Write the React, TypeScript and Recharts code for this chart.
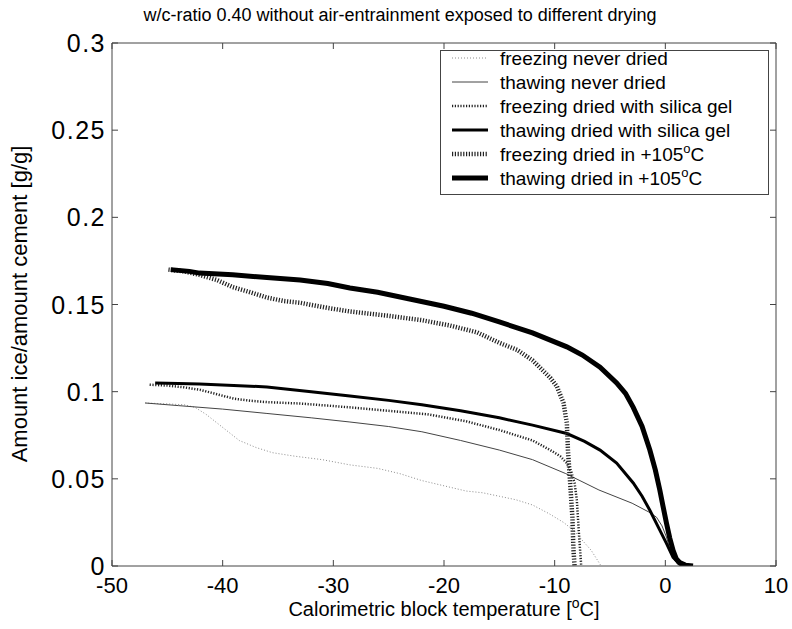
import React from 'react';
import { LineChart, Line, XAxis, YAxis } from 'recharts';

type Pt = [number, number];

const xTicks = [-50, -40, -30, -20, -10, 0, 10];
const yTicks = [0, 0.05, 0.1, 0.15, 0.2, 0.25, 0.3];

// [temperature °C, ice / cement g/g]
const freezingNeverDried: Pt[] = [
  [-47, 0.0935], [-45, 0.093], [-43.5, 0.0925], [-42.5, 0.091], [-41.5, 0.087],
  [-40.5, 0.082], [-39.5, 0.077], [-38.5, 0.072], [-37, 0.068], [-35.5, 0.065],
  [-33.5, 0.063], [-31, 0.061], [-28.5, 0.058], [-26, 0.056], [-24, 0.053],
  [-22, 0.049], [-20, 0.046], [-18, 0.043], [-16.5, 0.042], [-15, 0.04],
  [-13.5, 0.038], [-12, 0.035], [-10.5, 0.03], [-9.2, 0.025], [-8.2, 0.02],
  [-7.4, 0.014], [-6.7, 0.009], [-6.2, 0.004], [-5.9, 0.001], [-5.8, 0],
];

const thawingNeverDried: Pt[] = [
  [-47, 0.0935], [-44, 0.092], [-40, 0.09], [-36, 0.0875], [-32, 0.085],
  [-28.5, 0.0826], [-25, 0.08], [-22, 0.077], [-18.5, 0.072], [-15, 0.0665],
  [-12, 0.061], [-9, 0.053], [-6, 0.0436], [-3, 0.036], [-1.5, 0.031],
  [-0.8, 0.028], [-0.3, 0.023], [0.1, 0.0166], [0.4, 0.01], [0.7, 0.005],
  [1.1, 0.001], [1.5, 0], [2, 0],
];

const freezingSilica: Pt[] = [
  [-46.6, 0.104], [-45, 0.1035], [-43.5, 0.1025], [-42, 0.101], [-40.5, 0.0985],
  [-39, 0.096], [-37.5, 0.0948], [-36, 0.094], [-33, 0.0932], [-30.5, 0.092],
  [-28.5, 0.091], [-25, 0.089], [-21.5, 0.087], [-18, 0.083], [-15, 0.078],
  [-13.5, 0.075], [-12, 0.072], [-10.4, 0.0665], [-9.5, 0.063], [-8.9, 0.059],
  [-8.5, 0.054], [-8.2, 0.0476], [-8.0, 0.038], [-7.9, 0.028], [-7.8, 0.018],
  [-7.7, 0.009], [-7.6, 0],
];

const thawingSilica: Pt[] = [
  [-46.1, 0.105], [-44, 0.1047], [-42.1, 0.1044], [-39, 0.1036], [-36, 0.1027],
  [-32, 0.1], [-28.5, 0.0975], [-25, 0.095], [-22, 0.0925], [-18.5, 0.089],
  [-15, 0.085], [-12, 0.0808], [-8.9, 0.076], [-7.3, 0.0715], [-5.9, 0.0665],
  [-4.4, 0.059], [-2.9, 0.0476], [-2.1, 0.04], [-1.4, 0.032], [-0.5, 0.0206],
  [0.1, 0.013], [0.7, 0.005], [1.3, 0.001], [1.8, 0.0003], [2.3, 0],
];

const freezing105: Pt[] = [
  [-44.9, 0.17], [-43.5, 0.169], [-42.1, 0.167], [-40.5, 0.164], [-39.1, 0.16],
  [-37.5, 0.157], [-36, 0.154], [-34.5, 0.152], [-33, 0.151], [-30.5, 0.148],
  [-28.5, 0.146], [-25, 0.1435], [-22, 0.141], [-19.5, 0.138], [-17, 0.134],
  [-15, 0.128], [-13.4, 0.124], [-12, 0.118], [-10.4, 0.108], [-9.8, 0.103],
  [-9.2, 0.0935], [-8.9, 0.082], [-8.8, 0.0665], [-8.6, 0.0476], [-8.4, 0.028],
  [-8.3, 0.009], [-8.2, 0],
];

const thawing105: Pt[] = [
  [-44.7, 0.17], [-43, 0.169], [-42.1, 0.168], [-39.1, 0.167], [-36, 0.1655],
  [-33, 0.164], [-30.5, 0.162], [-28.5, 0.1595], [-26, 0.157], [-23, 0.153],
  [-20, 0.149], [-17.5, 0.145], [-15, 0.14], [-12, 0.1337], [-8.9, 0.1257],
  [-7.5, 0.121], [-5.9, 0.114], [-4.4, 0.105], [-3.6, 0.099], [-2.9, 0.091],
  [-2.1, 0.08], [-1.4, 0.0665], [-0.9, 0.055], [-0.5, 0.0436], [-0.2, 0.034],
  [0.1, 0.0247], [0.4, 0.016], [0.7, 0.009], [1.0, 0.004], [1.3, 0.002],
  [1.8, 0.0005], [2.5, 0],
];

const FONT = '"Liberation Sans", Arial, sans-serif';
const AXIS = '#444';

const SERIES = [
  { label: 'freezing never dried', deg: false, data: freezingNeverDried, stroke: '#8c8c8c', width: 1, dash: '1 2' },
  { label: 'thawing never dried', deg: false, data: thawingNeverDried, stroke: '#444', width: 1, dash: undefined },
  { label: 'freezing dried with silica gel', deg: false, data: freezingSilica, stroke: '#222', width: 2.5, dash: '1.2 1.6' },
  { label: 'thawing dried with silica gel', deg: false, data: thawingSilica, stroke: '#000', width: 3, dash: undefined },
  { label: 'freezing dried in +105', deg: true, data: freezing105, stroke: '#222', width: 4.5, dash: '1.2 1.6' },
  { label: 'thawing dried in +105', deg: true, data: thawing105, stroke: '#000', width: 5, dash: undefined },
];

const toRows = (pts: Pt[]) => pts.map(([t, v]) => ({ t, v }));

const BottomTick = ({ x, y, payload }: any) => (
  <g>
    <line x1={x} y1={y} x2={x} y2={y - 6} stroke={AXIS} />
    <text x={x} y={y + 27} textAnchor="middle" fontFamily={FONT} fontSize={22} fill="#000">
      {payload.value}
    </text>
  </g>
);

const TopTick = ({ x, y }: any) => <line x1={x} y1={y} x2={x} y2={y + 6} stroke={AXIS} />;

const LeftTick = ({ x, y, payload }: any) => (
  <g>
    <line x1={x} y1={y} x2={x + 6} y2={y} stroke={AXIS} />
    <text x={x - 6} y={y + 9} textAnchor="end" fontFamily={FONT} fontSize={25} letterSpacing={1.5} fill="#000">
      {String(payload.value)}
    </text>
  </g>
);

const RightTick = ({ x, y }: any) => <line x1={x} y1={y} x2={x - 6} y2={y} stroke={AXIS} />;

function LegendBox() {
  return (
    <svg width={792} height={629} style={{ position: 'absolute', left: 0, top: 0, pointerEvents: 'none' }}>
      <rect x={440.5} y={50.5} width={328} height={144} fill="#fff" stroke={AXIS} />
      {SERIES.map((s, i) => {
        const cy = 58 + i * 24;
        return (
          <g key={s.label}>
            <line x1={452} x2={488} y1={cy} y2={cy} stroke={s.stroke} strokeWidth={s.width} strokeDasharray={s.dash} />
            <text x={500} y={cy + 7} fontFamily={FONT} fontSize={19} fill="#000">
              {s.label}
              {s.deg && (
                <>
                  <tspan dy={-8} fontSize={13}>o</tspan>
                  <tspan dy={8}>C</tspan>
                </>
              )}
            </text>
          </g>
        );
      })}
      <text x={400} y={21} textAnchor="middle" fontFamily={FONT} fontSize={18} fill="#000">
        w/c-ratio 0.40 without air-entrainment exposed to different drying
      </text>
      <text x={444} y={616} textAnchor="middle" fontFamily={FONT} fontSize={20} fill="#000">
        Calorimetric block temperature [<tspan dy={-8} fontSize={14}>o</tspan>
        <tspan dy={8}>C]</tspan>
      </text>
      <text x={27} y={304} transform="rotate(-90 27 304)" textAnchor="middle" fontFamily={FONT} fontSize={22} fill="#000">
        Amount ice/amount cement [g/g]
      </text>
    </svg>
  );
}

export default function App() {
  return (
    <div style={{ position: 'absolute', left: 0, top: 0, width: 792, height: 629, background: '#fff' }}>
      <LineChart width={792} height={629} margin={{ top: 42, right: 15, bottom: 33, left: 52 }}>
        <XAxis
          dataKey="t"
          type="number"
          domain={[-50, 10]}
          ticks={xTicks}
          interval={0}
          allowDataOverflow
          tickSize={0}
          tickMargin={0}
          tickLine={false}
          height={30}
          axisLine={{ stroke: AXIS }}
          tick={<BottomTick />}
        />
        <XAxis
          xAxisId="top"
          orientation="top"
          dataKey="t"
          type="number"
          domain={[-50, 10]}
          ticks={xTicks}
          interval={0}
          allowDataOverflow
          tickSize={0}
          tickMargin={0}
          tickLine={false}
          height={1}
          axisLine={{ stroke: AXIS }}
          tick={<TopTick />}
        />
        <YAxis
          type="number"
          domain={[0, 0.3]}
          ticks={yTicks}
          interval={0}
          allowDataOverflow
          tickSize={0}
          tickMargin={0}
          tickLine={false}
          width={60}
          axisLine={{ stroke: AXIS }}
          tick={<LeftTick />}
        />
        <YAxis
          yAxisId="right"
          orientation="right"
          type="number"
          domain={[0, 0.3]}
          ticks={yTicks}
          interval={0}
          allowDataOverflow
          tickSize={0}
          tickMargin={0}
          tickLine={false}
          width={1}
          axisLine={{ stroke: AXIS }}
          tick={<RightTick />}
        />
        {SERIES.map((s) => (
          <Line
            key={s.label}
            data={toRows(s.data)}
            dataKey="v"
            type="linear"
            dot={false}
            activeDot={false}
            stroke={s.stroke}
            strokeWidth={s.width}
            strokeDasharray={s.dash}
            isAnimationActive={false}
          />
        ))}
      </LineChart>
      <LegendBox />
    </div>
  );
}
